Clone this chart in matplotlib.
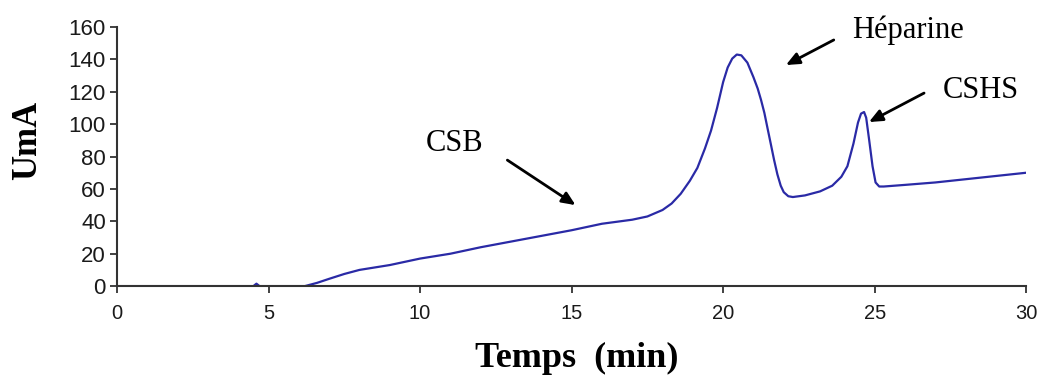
import matplotlib
matplotlib.use("Agg")
import matplotlib.pyplot as plt

# Chromatogram data (time in min, signal in UmA)
time_min = [0.0, 4.5, 4.6, 4.7, 6.2, 6.6, 7.0, 7.5, 8.0, 8.5, 9.0, 9.5, 10.0, 11.0, 12.0,
            13.0, 14.0, 15.0, 16.0, 17.0, 17.5, 18.0, 18.3, 18.6, 18.9, 19.15, 19.4,
            19.6, 19.8, 20.0, 20.15, 20.3, 20.45, 20.6, 20.8, 21.0, 21.14, 21.25, 21.36,
            21.47, 21.57, 21.68, 21.79, 21.9, 22.0, 22.15, 22.3, 22.7, 23.2, 23.6, 23.9,
            24.1, 24.3, 24.45, 24.55, 24.65, 24.72, 24.82, 24.93, 25.03, 25.15, 25.3,
            26.0, 27.0, 28.0, 29.0, 30.0]
signal = [0.0, 0.0, 1.5, 0.0, 0.0, 2.0, 4.5, 7.5, 10.0, 11.5, 13.0, 15.0, 17.0, 20.0, 24.0,
          27.5, 31.0, 34.5, 38.5, 41.0, 43.0, 47.0, 51.0, 57.0, 65.0, 73.0, 85.0,
          96.0, 110.0, 126.0, 135.0, 140.5, 143.0, 142.5, 138.0, 129.0, 122.0, 115.0, 107.0,
          97.0, 88.0, 78.0, 69.0, 62.0, 58.0, 55.5, 55.0, 56.0, 58.5, 62.0, 67.5,
          74.0, 88.0, 101.0, 106.5, 107.5, 104.0, 90.0, 74.0, 64.0, 61.5, 61.5,
          62.5, 64.0, 66.0, 68.0, 70.0]

x_ticks = [0, 5, 10, 15, 20, 25, 30]
y_ticks = [0, 20, 40, 60, 80, 100, 120, 140, 160]

# Annotations: label, text position, arrow tail, arrow head
annot_labels = ["Héparine", "CSHS", "CSB"]
annot_text_xy = [(26.1, 158.0), (28.5, 121.0), (11.13, 88.0)]
annot_tail_xy = [(23.65, 152.0), (26.63, 119.2), (12.88, 77.8)]
annot_head_xy = [(22.07, 136.5), (24.81, 101.3), (15.13, 50.0)]

fig = plt.figure(figsize=(10.45, 3.83), dpi=100)
ax = fig.add_axes([0.112, 0.253, 0.870, 0.6765])

ax.plot(time_min, signal, color="#2a2aa6", linewidth=1.6)

ax.set_xlim(0, 30)
ax.set_ylim(0, 160)
ax.set_xticks(x_ticks)
ax.set_yticks(y_ticks)

for side in ["top", "right"]:
    ax.spines[side].set_visible(False)
for side in ["left", "bottom"]:
    ax.spines[side].set_color("#333333")
    ax.spines[side].set_linewidth(1.5)

ax.tick_params(axis="both", direction="out", length=5, width=1.3, color="#333333",
               labelcolor="#1a1a1a")
ax.tick_params(axis="y", labelsize=16, pad=3)
ax.tick_params(axis="x", labelsize=14.5, pad=8)
for lbl in ax.get_xticklabels() + ax.get_yticklabels():
    lbl.set_family("Liberation Sans")

ax.set_xlabel("Temps  (min)", fontfamily="Liberation Serif", fontweight="bold",
              fontsize=26)
ax.set_ylabel("UmA", fontfamily="Liberation Serif", fontweight="bold",
              fontsize=25)
ax.xaxis.set_label_coords(0.506, -0.278)
ax.yaxis.set_label_coords(-0.098, 0.564)
ax.xaxis.label.set_va("center")
ax.yaxis.label.set_va("center")

for lab, txy, tail, head in zip(annot_labels, annot_text_xy, annot_tail_xy, annot_head_xy):
    ax.text(txy[0], txy[1], lab, fontfamily="Liberation Serif", fontsize=22,
            ha="center", va="center", clip_on=False)
    ax.annotate("", xy=head, xytext=tail, annotation_clip=False,
                arrowprops=dict(arrowstyle="-|>,head_length=0.8,head_width=0.35",
                                color="black", lw=2.0, shrinkA=0, shrinkB=0))

fig.savefig("out.png", dpi=100)
